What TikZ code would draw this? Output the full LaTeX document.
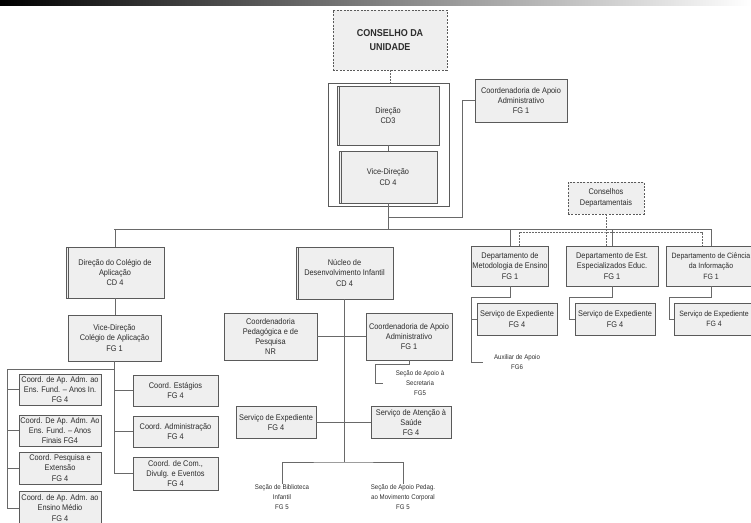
\documentclass[tikz,border=0pt]{standalone}
\usepackage{fontspec}
\newfontfamily\orgfont[FakeStretch=0.9]{Liberation Sans}
\usetikzlibrary{shadows}
\definecolor{orgline}{RGB}{90,90,90}
\definecolor{orgfill}{RGB}{239,239,239}
\definecolor{orgwire}{RGB}{105,105,105}
\definecolor{orgtext}{RGB}{45,45,45}
\tikzset{
  unitbox/.style={draw=orgline, fill=orgfill, line width=0.7pt, align=center, inner sep=1pt,
    text=orgtext, font=\orgfont\fontsize{8.2}{10.3}\selectfont,
    drop shadow={shadow xshift=0.8pt, shadow yshift=-0.8pt, fill=black!40, opacity=0.8}},
  councilbox/.style={draw=orgline, fill=orgfill, line width=0.7pt, dashed, dash pattern=on 2pt off 1.4pt,
    align=center, inner sep=1pt, text=orgtext, font=\orgfont\fontsize{8.2}{10.3}\selectfont},
  dims/.style 2 args={minimum width=#1, minimum height=#2},
  dblleft/.style={path picture={\draw[orgline, line width=0.6pt]
    ([xshift=2.6pt]path picture bounding box.south west) -- ([xshift=2.6pt]path picture bounding box.north west);}},
  edgetext/.style={font=\orgfont\fontsize{7.7}{10.3}\selectfont},
  note/.style={align=center, inner sep=1pt, text=orgtext, font=\orgfont\fontsize{6.8}{9.6}\selectfont},
  wire/.style={draw=orgwire, line width=0.8pt},
  dashwire/.style={wire, dashed, dash pattern=on 1.8pt off 1.2pt},
}
\begin{document}
\begin{tikzpicture}[x=1pt, y=-1pt]
\useasboundingbox (0,0) rectangle (751,522);
% Top band
\shade[left color=black, middle color=black!70, right color=white] (0,0) rectangle (751,5);
% Council and direction
\node[councilbox, dims={114pt}{60pt}, font=\orgfont\bfseries\fontsize{10}{14.5}\selectfont] (conselho) at (390,40) {CONSELHO DA\\UNIDADE};
\node[draw=orgline, line width=0.7pt, dims={121pt}{123pt}] (dirframe) at (388.5,144.5) {};
\node[unitbox, dblleft, dims={102pt}{59pt}] (direcao) at (388,115.5) {Direção\\CD3};
\node[unitbox, dblleft, dims={98pt}{52pt}] (vicedir) at (388,177) {Vice-Direção\\CD 4};
\node[unitbox, dims={92pt}{43pt}] (apoioadm) at (521,100.5) {Coordenadoria de Apoio\\Administrativo\\FG 1};
\node[councilbox, dims={76pt}{32pt}] (consdep) at (606,198) {Conselhos\\Departamentais};
\coordinate (hub) at (388,229);
\coordinate (side) at (462,217);
\coordinate (mainL) at (114,229);
\coordinate (mainR) at (711,229);
\coordinate (dashbar) at (606,232);
\draw[dashwire] (conselho.south) -- (conselho.south |- dirframe.north);
\draw[wire] (direcao) -- (vicedir);
\draw[wire] (vicedir.south) -- (hub);
\draw[wire] (apoioadm.west) -| (side) -- (side -| hub);
\draw[wire] (mainL) -- (mainR);
% Departments
\node[unitbox, dims={76pt}{40pt}] (depmet) at (510,266) {Departamento de\\Metodologia de Ensino\\FG 1};
\node[unitbox, dims={92pt}{40pt}] (depest) at (612,266) {Departamento de Est.\\Especializados Educ.\\FG 1};
\node[unitbox, edgetext, dims={90pt}{40pt}] (depci) at (711,266) {Departamento de Ciência\\da Informação\\FG 1};
\draw[wire] (depmet.north) -- (depmet.north |- mainL);
\draw[wire] (depest.north) -- (depest.north |- mainL);
\draw[wire] (depci.north) -- (mainR);
\draw[dashwire] (consdep.south) -- (consdep.south |- depest.north);
\draw[dashwire] ([xshift=9pt]depmet.north) |- (dashbar) -| ([xshift=-9pt]depci.north);
\node[unitbox, dims={80pt}{32pt}] (servmet) at (517,319) {Serviço de Expediente\\FG 4};
\node[unitbox, dims={80pt}{32pt}] (servest) at (615,319) {Serviço de Expediente\\FG 4};
\node[unitbox, edgetext, dims={80pt}{32pt}] (servci) at (714,319) {Serviço de Expediente\\FG 4};
\node[note] (auxiliar) at (517,362) {Auxiliar de Apoio\\FG6};
\coordinate (metrail) at (471,297);
\coordinate (estrail) at (569,297);
\coordinate (cirail) at (669,297);
\draw[wire] (depmet.south) |- (metrail) |- ([xshift=-10pt]auxiliar.west);
\draw[wire] (metrail |- servmet.west) -- (servmet.west);
\draw[wire] (depest.south) |- (estrail) |- (servest.west);
\draw[wire] (depci.south) |- (cirail) |- (servci.west);
% Colegio de Aplicacao
\node[unitbox, dblleft, dims={98pt}{51pt}] (dircol) at (115,272.5) {Direção do Colégio de\\Aplicação\\CD 4};
\node[unitbox, dims={93pt}{46pt}] (vicecol) at (114.5,338) {Vice-Direção\\Colégio de Aplicação\\FG 1};
\draw[wire] (dircol.north) -- (dircol.north |- mainL);
\draw[wire] (dircol.south) -- (dircol.south |- vicecol.north);
\node[unitbox, dims={85pt}{31pt}] (estagios) at (175.5,390.5) {Coord. Estágios\\FG 4};
\node[unitbox, dims={85pt}{31pt}] (admin) at (175.5,431.5) {Coord. Administração\\FG 4};
\node[unitbox, dims={85pt}{33pt}] (comunic) at (175.5,473.5) {Coord. de Com.,\\Divulg. e Eventos\\FG 4};
\node[unitbox, dims={82pt}{31pt}] (fundin) at (60,389.5) {Coord. de Ap. Adm. ao\\Ens. Fund. – Anos In.\\FG 4};
\node[unitbox, dims={82pt}{31pt}] (fundfin) at (60,430.5) {Coord. De Ap. Adm. Ao\\Ens. Fund. – Anos\\Finais FG4};
\node[unitbox, dims={82pt}{32pt}] (pesq) at (60,468) {Coord. Pesquisa e\\Extensão\\FG 4};
\node[unitbox, dims={82pt}{34pt}] (medio) at (60,508) {Coord. de Ap. Adm. ao\\Ensino Médio\\FG 4};
\coordinate (colbar) at (114,369);
\coordinate (colleft) at (7,369);
\draw[wire] (vicecol.south) |- (colleft) |- (medio.west);
\draw[wire] (colleft |- fundin.west) -- (fundin.west);
\draw[wire] (colleft |- fundfin.west) -- (fundfin.west);
\draw[wire] (colleft |- pesq.west) -- (pesq.west);
\draw[wire] (colbar) |- (comunic.west);
\draw[wire] (colbar |- estagios.west) -- (estagios.west);
\draw[wire] (colbar |- admin.west) -- (admin.west);
% Nucleo de Desenvolvimento Infantil
\node[unitbox, dblleft, dims={97pt}{52pt}] (nucleo) at (344.5,273) {Núcleo de\\Desenvolvimento Infantil\\CD 4};
\node[unitbox, dims={93pt}{47pt}] (coordped) at (270.5,336.5) {Coordenadoria\\Pedagógica e de\\Pesquisa\\NR};
\node[unitbox, dims={86pt}{47pt}] (coordapoio) at (409,336.5) {Coordenadoria de Apoio\\Administrativo\\FG 1};
\node[note] (secsec) at (420,383) {Seção de Apoio à\\Secretaria\\FG5};
\node[unitbox, dims={80pt}{32pt}] (servexp) at (276,422.5) {Serviço de Expediente\\FG 4};
\node[unitbox, dims={80pt}{32pt}] (saude) at (411,422.5) {Serviço de Atenção à\\Saúde\\FG 4};
\node[note] (secbib) at (282,497) {Seção de Biblioteca\\Infantil\\FG 5};
\node[note] (secmov) at (403,497) {Seção de Apoio Pedag.\\ao Movimento Corporal\\FG 5};
\coordinate (nucbar) at (344,462);
\coordinate (secbend) at (375,364);
\draw[wire] (nucleo.south) -- (nucleo.south |- nucbar);
\draw[wire] (coordped.east) -- (coordapoio.west);
\draw[wire] (servexp.east) -- (saude.west);
\draw[wire] (secbib.north) |- (nucbar) -| (secmov.north);
\draw[wire] (coordapoio.south) |- (secbend) |- ([xshift=-12pt]secsec.west);
\end{tikzpicture}
\end{document}
